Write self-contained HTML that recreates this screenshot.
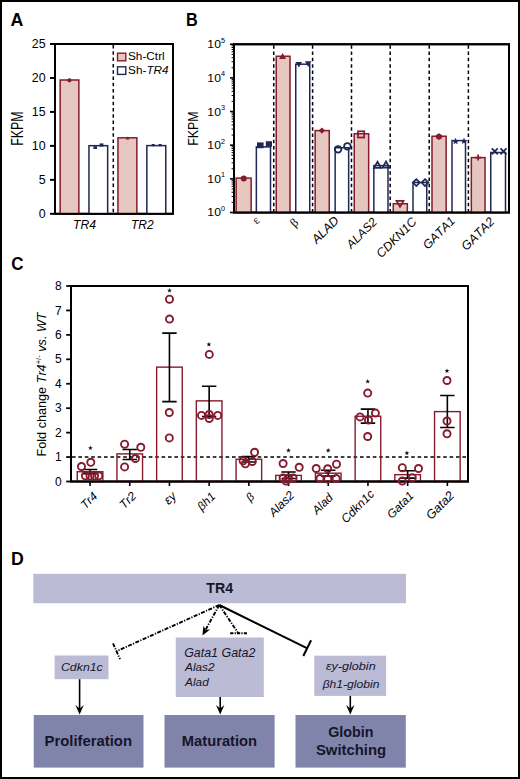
<!DOCTYPE html>
<html><head><meta charset="utf-8"><style>
html,body{margin:0;padding:0;background:#fff;}
svg{display:block;}

</style></head><body>
<svg width="520" height="779" viewBox="0 0 520 779">
<rect x="1" y="1" width="518" height="777" fill="#fff" stroke="#000" stroke-width="2"/>
<text transform="matrix(0.8906,0,0,0.9193,10.56,25.65)" fill="#000" style="font-kerning:none"><tspan font-family="Liberation Sans, sans-serif" font-size="20.00" font-weight="bold">A</tspan></text>
<text transform="matrix(0.8117,0,0,0.9193,186.06,25.65)" fill="#000" style="font-kerning:none"><tspan font-family="Liberation Sans, sans-serif" font-size="20.00" font-weight="bold">B</tspan></text>
<text transform="matrix(0.8489,0,0,0.9569,11.25,270.36)" fill="#000" style="font-kerning:none"><tspan font-family="Liberation Sans, sans-serif" font-size="20.00" font-weight="bold">C</tspan></text>
<text transform="matrix(0.8887,0,0,0.9302,10.96,565.45)" fill="#000" style="font-kerning:none"><tspan font-family="Liberation Sans, sans-serif" font-size="20.00" font-weight="bold">D</tspan></text>
<rect x="55" y="44" width="118" height="169.8" fill="none" stroke="#000" stroke-width="2"/>
<line x1="50" y1="213.8" x2="55" y2="213.8" stroke="#000" stroke-width="2"/>
<text x="45.6" y="217.90" font-size="12.4" text-anchor="end" font-family="Liberation Sans, sans-serif">0</text>
<line x1="50" y1="179.84" x2="55" y2="179.84" stroke="#000" stroke-width="2"/>
<text x="45.6" y="183.94" font-size="12.4" text-anchor="end" font-family="Liberation Sans, sans-serif">5</text>
<line x1="50" y1="145.88" x2="55" y2="145.88" stroke="#000" stroke-width="2"/>
<text x="45.6" y="149.98" font-size="12.4" text-anchor="end" font-family="Liberation Sans, sans-serif">10</text>
<line x1="50" y1="111.92000000000002" x2="55" y2="111.92000000000002" stroke="#000" stroke-width="2"/>
<text x="45.6" y="116.02" font-size="12.4" text-anchor="end" font-family="Liberation Sans, sans-serif">15</text>
<line x1="50" y1="77.96000000000001" x2="55" y2="77.96000000000001" stroke="#000" stroke-width="2"/>
<text x="45.6" y="82.06" font-size="12.4" text-anchor="end" font-family="Liberation Sans, sans-serif">20</text>
<line x1="50" y1="44.0" x2="55" y2="44.0" stroke="#000" stroke-width="2"/>
<text x="45.6" y="48.10" font-size="12.4" text-anchor="end" font-family="Liberation Sans, sans-serif">25</text>
<rect x="60.15" y="80.00" width="18.70" height="133.80" fill="#e5c7c0" stroke="#861a2e" stroke-width="1.5"/>
<rect x="88.95" y="145.68" width="18.70" height="68.12" fill="#fff" stroke="#1f2854" stroke-width="1.5"/>
<rect x="117.95" y="137.80" width="18.90" height="76.00" fill="#e5c7c0" stroke="#861a2e" stroke-width="1.5"/>
<rect x="146.85" y="145.61" width="18.90" height="68.19" fill="#fff" stroke="#1f2854" stroke-width="1.5"/>
<circle cx="69.4" cy="80.30" r="2.1" fill="#861a2e"/>
<rect x="93.4" y="146.2" width="3.6" height="2.8" fill="#1f2854"/>
<rect x="99.6" y="143.4" width="3.8" height="3.2" fill="#1f2854"/>
<path d="M127.6 136.4 L129.6 139.6 L125.6 139.6Z" fill="#861a2e"/>
<path d="M151.4 144 L155 144 L153.2 147Z" fill="#1f2854"/>
<path d="M158.3 144 L161.9 144 L160.1 147Z" fill="#1f2854"/>
<rect x="55" y="44" width="118" height="169.8" fill="none" stroke="#000" stroke-width="2"/>
<line x1="113.3" y1="45" x2="113.3" y2="212.8" stroke="#000" stroke-width="1.5" stroke-dasharray="3.5 2.8"/>
<rect x="117.5" y="53.2" width="8.3" height="7.6" fill="#e5c7c0" stroke="#861a2e" stroke-width="1.4"/>
<rect x="117.5" y="66.8" width="8.3" height="7.6" fill="#fff" stroke="#1f2854" stroke-width="1.4"/>
<text transform="matrix(0.5919,0,0,0.5038,127.91,59.95)" fill="#000" style="font-kerning:none"><tspan font-family="Liberation Sans, sans-serif" font-size="20.00" >Sh-Ctrl</tspan></text>
<text transform="matrix(0.5874,0,0,0.5243,128.12,73.55)" fill="#000" style="font-kerning:none"><tspan font-family="Liberation Sans, sans-serif" font-size="20.00" >Sh-</tspan><tspan font-family="Liberation Sans, sans-serif" font-size="20.00" font-style="italic">TR4</tspan></text>
<text transform="matrix(0.6102,0,0,0.6032,72.95,228.65)" fill="#000" style="font-kerning:none"><tspan font-family="Liberation Sans, sans-serif" font-size="20.00" font-style="italic">TR4</tspan></text>
<text transform="matrix(0.6024,0,0,0.6087,130.97,228.85)" fill="#000" style="font-kerning:none"><tspan font-family="Liberation Sans, sans-serif" font-size="20.00" font-style="italic">TR2</tspan></text>
<text transform="matrix(0,-0.6198,0.7922,0,23.45,145.77)" fill="#000" style="font-kerning:none"><tspan font-family="Liberation Sans, sans-serif" font-size="20.00" >FKPM</tspan></text>
<rect x="234" y="44.25" width="275" height="168.25" fill="none" stroke="#000" stroke-width="2"/>
<line x1="230" y1="212.50" x2="234" y2="212.50" stroke="#000" stroke-width="1.6"/>
<text transform="matrix(0.6080,0.0000,0.0000,0.5892,207.3700,216.4800)" fill="#000" style="font-kerning:none"><tspan font-family="Liberation Sans, sans-serif" font-size="20.00" >10</tspan><tspan font-family="Liberation Sans, sans-serif" font-size="12.00"  dy="-9.20">0</tspan></text>
<line x1="231.6" y1="202.37" x2="234" y2="202.37" stroke="#000" stroke-width="1"/>
<line x1="231.6" y1="196.44" x2="234" y2="196.44" stroke="#000" stroke-width="1"/>
<line x1="231.6" y1="192.24" x2="234" y2="192.24" stroke="#000" stroke-width="1"/>
<line x1="231.6" y1="188.98" x2="234" y2="188.98" stroke="#000" stroke-width="1"/>
<line x1="231.6" y1="186.32" x2="234" y2="186.32" stroke="#000" stroke-width="1"/>
<line x1="231.6" y1="184.06" x2="234" y2="184.06" stroke="#000" stroke-width="1"/>
<line x1="231.6" y1="182.11" x2="234" y2="182.11" stroke="#000" stroke-width="1"/>
<line x1="231.6" y1="180.39" x2="234" y2="180.39" stroke="#000" stroke-width="1"/>
<line x1="230" y1="178.85" x2="234" y2="178.85" stroke="#000" stroke-width="1.6"/>
<text transform="matrix(0.6080,0.0000,0.0000,0.5892,207.3700,182.8300)" fill="#000" style="font-kerning:none"><tspan font-family="Liberation Sans, sans-serif" font-size="20.00" >10</tspan><tspan font-family="Liberation Sans, sans-serif" font-size="12.00"  dy="-9.20">1</tspan></text>
<line x1="231.6" y1="168.72" x2="234" y2="168.72" stroke="#000" stroke-width="1"/>
<line x1="231.6" y1="162.79" x2="234" y2="162.79" stroke="#000" stroke-width="1"/>
<line x1="231.6" y1="158.59" x2="234" y2="158.59" stroke="#000" stroke-width="1"/>
<line x1="231.6" y1="155.33" x2="234" y2="155.33" stroke="#000" stroke-width="1"/>
<line x1="231.6" y1="152.67" x2="234" y2="152.67" stroke="#000" stroke-width="1"/>
<line x1="231.6" y1="150.41" x2="234" y2="150.41" stroke="#000" stroke-width="1"/>
<line x1="231.6" y1="148.46" x2="234" y2="148.46" stroke="#000" stroke-width="1"/>
<line x1="231.6" y1="146.74" x2="234" y2="146.74" stroke="#000" stroke-width="1"/>
<line x1="230" y1="145.20" x2="234" y2="145.20" stroke="#000" stroke-width="1.6"/>
<text transform="matrix(0.6080,0.0000,0.0000,0.5892,207.3700,149.1800)" fill="#000" style="font-kerning:none"><tspan font-family="Liberation Sans, sans-serif" font-size="20.00" >10</tspan><tspan font-family="Liberation Sans, sans-serif" font-size="12.00"  dy="-9.20">2</tspan></text>
<line x1="231.6" y1="135.07" x2="234" y2="135.07" stroke="#000" stroke-width="1"/>
<line x1="231.6" y1="129.14" x2="234" y2="129.14" stroke="#000" stroke-width="1"/>
<line x1="231.6" y1="124.94" x2="234" y2="124.94" stroke="#000" stroke-width="1"/>
<line x1="231.6" y1="121.68" x2="234" y2="121.68" stroke="#000" stroke-width="1"/>
<line x1="231.6" y1="119.02" x2="234" y2="119.02" stroke="#000" stroke-width="1"/>
<line x1="231.6" y1="116.76" x2="234" y2="116.76" stroke="#000" stroke-width="1"/>
<line x1="231.6" y1="114.81" x2="234" y2="114.81" stroke="#000" stroke-width="1"/>
<line x1="231.6" y1="113.09" x2="234" y2="113.09" stroke="#000" stroke-width="1"/>
<line x1="230" y1="111.55" x2="234" y2="111.55" stroke="#000" stroke-width="1.6"/>
<text transform="matrix(0.6080,0.0000,0.0000,0.5892,207.3700,115.5300)" fill="#000" style="font-kerning:none"><tspan font-family="Liberation Sans, sans-serif" font-size="20.00" >10</tspan><tspan font-family="Liberation Sans, sans-serif" font-size="12.00"  dy="-9.20">3</tspan></text>
<line x1="231.6" y1="101.42" x2="234" y2="101.42" stroke="#000" stroke-width="1"/>
<line x1="231.6" y1="95.49" x2="234" y2="95.49" stroke="#000" stroke-width="1"/>
<line x1="231.6" y1="91.29" x2="234" y2="91.29" stroke="#000" stroke-width="1"/>
<line x1="231.6" y1="88.03" x2="234" y2="88.03" stroke="#000" stroke-width="1"/>
<line x1="231.6" y1="85.37" x2="234" y2="85.37" stroke="#000" stroke-width="1"/>
<line x1="231.6" y1="83.11" x2="234" y2="83.11" stroke="#000" stroke-width="1"/>
<line x1="231.6" y1="81.16" x2="234" y2="81.16" stroke="#000" stroke-width="1"/>
<line x1="231.6" y1="79.44" x2="234" y2="79.44" stroke="#000" stroke-width="1"/>
<line x1="230" y1="77.90" x2="234" y2="77.90" stroke="#000" stroke-width="1.6"/>
<text transform="matrix(0.6080,0.0000,0.0000,0.5892,207.3700,81.8800)" fill="#000" style="font-kerning:none"><tspan font-family="Liberation Sans, sans-serif" font-size="20.00" >10</tspan><tspan font-family="Liberation Sans, sans-serif" font-size="12.00"  dy="-9.20">4</tspan></text>
<line x1="231.6" y1="67.77" x2="234" y2="67.77" stroke="#000" stroke-width="1"/>
<line x1="231.6" y1="61.84" x2="234" y2="61.84" stroke="#000" stroke-width="1"/>
<line x1="231.6" y1="57.64" x2="234" y2="57.64" stroke="#000" stroke-width="1"/>
<line x1="231.6" y1="54.38" x2="234" y2="54.38" stroke="#000" stroke-width="1"/>
<line x1="231.6" y1="51.72" x2="234" y2="51.72" stroke="#000" stroke-width="1"/>
<line x1="231.6" y1="49.46" x2="234" y2="49.46" stroke="#000" stroke-width="1"/>
<line x1="231.6" y1="47.51" x2="234" y2="47.51" stroke="#000" stroke-width="1"/>
<line x1="231.6" y1="45.79" x2="234" y2="45.79" stroke="#000" stroke-width="1"/>
<line x1="230" y1="44.25" x2="234" y2="44.25" stroke="#000" stroke-width="1.6"/>
<text transform="matrix(0.6080,0.0000,0.0000,0.5892,207.3700,48.2300)" fill="#000" style="font-kerning:none"><tspan font-family="Liberation Sans, sans-serif" font-size="20.00" >10</tspan><tspan font-family="Liberation Sans, sans-serif" font-size="12.00"  dy="-9.20">5</tspan></text>
<line x1="273.75" y1="45.25" x2="273.75" y2="211.5" stroke="#000" stroke-width="1.5" stroke-dasharray="3.5 2.8"/>
<line x1="312.6" y1="45.25" x2="312.6" y2="211.5" stroke="#000" stroke-width="1.5" stroke-dasharray="3.5 2.8"/>
<line x1="351.5" y1="45.25" x2="351.5" y2="211.5" stroke="#000" stroke-width="1.5" stroke-dasharray="3.5 2.8"/>
<line x1="390.2" y1="45.25" x2="390.2" y2="211.5" stroke="#000" stroke-width="1.5" stroke-dasharray="3.5 2.8"/>
<line x1="429.2" y1="45.25" x2="429.2" y2="211.5" stroke="#000" stroke-width="1.5" stroke-dasharray="3.5 2.8"/>
<line x1="468.4" y1="45.25" x2="468.4" y2="211.5" stroke="#000" stroke-width="1.5" stroke-dasharray="3.5 2.8"/>
<rect x="236.15" y="178.10" width="15.00" height="34.40" fill="#e5c7c0" stroke="#861a2e" stroke-width="1.5"/>
<rect x="256.35" y="146.90" width="14.15" height="65.60" fill="#fff" stroke="#1f2854" stroke-width="1.5"/>
<rect x="276.25" y="56.25" width="13.75" height="156.25" fill="#e5c7c0" stroke="#861a2e" stroke-width="1.5"/>
<rect x="295.75" y="64.20" width="14.00" height="148.30" fill="#fff" stroke="#1f2854" stroke-width="1.5"/>
<rect x="315.15" y="130.60" width="14.10" height="81.90" fill="#e5c7c0" stroke="#861a2e" stroke-width="1.5"/>
<rect x="335.15" y="147.75" width="13.50" height="64.75" fill="#fff" stroke="#1f2854" stroke-width="1.5"/>
<rect x="354.25" y="133.75" width="14.40" height="78.75" fill="#e5c7c0" stroke="#861a2e" stroke-width="1.5"/>
<rect x="373.85" y="165.60" width="14.15" height="46.90" fill="#fff" stroke="#1f2854" stroke-width="1.5"/>
<rect x="393.25" y="203.75" width="14.10" height="8.75" fill="#e5c7c0" stroke="#861a2e" stroke-width="1.5"/>
<rect x="413.00" y="182.50" width="13.75" height="30.00" fill="#fff" stroke="#1f2854" stroke-width="1.5"/>
<rect x="432.00" y="136.25" width="14.15" height="76.25" fill="#e5c7c0" stroke="#861a2e" stroke-width="1.5"/>
<rect x="452.00" y="140.60" width="13.50" height="71.90" fill="#fff" stroke="#1f2854" stroke-width="1.5"/>
<rect x="471.35" y="157.60" width="13.70" height="54.90" fill="#e5c7c0" stroke="#861a2e" stroke-width="1.5"/>
<rect x="490.75" y="152.50" width="14.75" height="60.00" fill="#fff" stroke="#1f2854" stroke-width="1.5"/>
<rect x="234" y="44.25" width="275" height="168.25" fill="none" stroke="#000" stroke-width="2"/>
<circle cx="243.75" cy="178.6" r="3" fill="#861a2e"/>
<rect x="257" y="142.4" width="6.6" height="5.8" fill="#1f2854"/>
<rect x="265.8" y="141.2" width="6.2" height="5.6" fill="#1f2854"/>
<path d="M282.6 52.95 L286.10 59.04 L279.10 59.04Z" fill="#861a2e"/>
<path d="M298.8 67.59 L302.05 61.94 L295.55 61.94Z" fill="#1f2854"/>
<path d="M308.2 66.99 L311.45 61.34 L304.95 61.34Z" fill="#1f2854"/>
<path d="M321.9 127.39999999999999 L325.09999999999997 130.6 L321.9 133.79999999999998 L318.7 130.6Z" fill="#861a2e"/>
<circle cx="338.1" cy="149.3" r="3.3" fill="none" stroke="#1f2854" stroke-width="1.75"/>
<circle cx="347.4" cy="146.3" r="3.3" fill="none" stroke="#1f2854" stroke-width="1.75"/>
<rect x="358" y="131.3" width="6.2" height="6.2" fill="none" stroke="#861a2e" stroke-width="1.75"/>
<path d="M377.5 161.75 L381.00 167.84 L374.00 167.84Z" fill="none" stroke="#1f2854" stroke-width="1.75"/>
<path d="M386 161.55 L389.50 167.64 L382.50 167.64Z" fill="none" stroke="#1f2854" stroke-width="1.75"/>
<path d="M400 206.85 L403.50 200.76 L396.50 200.76Z" fill="none" stroke="#861a2e" stroke-width="1.75"/>
<path d="M416.3 179.2 L419.7 182.6 L416.3 186.0 L412.90000000000003 182.6Z" fill="none" stroke="#1f2854" stroke-width="1.75"/>
<path d="M425 179.2 L428.4 182.6 L425 186.0 L421.6 182.6Z" fill="none" stroke="#1f2854" stroke-width="1.75"/>
<path d="M441.94 138.30 L439.00 140.00 L436.06 138.30 L436.06 134.90 L439.00 133.20 L441.94 134.90Z" fill="#861a2e"/>
<path d="M455.60 137.80 L456.55 140.09 L459.02 140.29 L457.14 141.90 L457.72 144.31 L455.60 143.02 L453.48 144.31 L454.06 141.90 L452.18 140.29 L454.65 140.09Z" fill="#1f2854"/>
<path d="M464.00 137.60 L464.95 139.89 L467.42 140.09 L465.54 141.70 L466.12 144.11 L464.00 142.82 L461.88 144.11 L462.46 141.70 L460.58 140.09 L463.05 139.89Z" fill="#1f2854"/>
<path d="M478.1 154.4 V160.6 M475 157.6 H481.2" stroke="#861a2e" stroke-width="1.75"/>
<path d="M491.75 148.3 L497.75 154.3 M491.75 154.3 L497.75 148.3" stroke="#1f2854" stroke-width="1.75"/>
<path d="M500.5 148.3 L506.5 154.3 M500.5 154.3 L506.5 148.3" stroke="#1f2854" stroke-width="1.75"/>
<text transform="matrix(0,-0.6198,0.7776,0,198.05,145.77)" fill="#000" style="font-kerning:none"><tspan font-family="Liberation Sans, sans-serif" font-size="20.00" >FKPM</tspan></text>
<text transform="translate(260.20,221.10) rotate(-45) scale(1,1) translate(-5.03,0)" fill="#000" style="font-kerning:none"><tspan font-family="Liberation Serif, serif" font-size="11.99" >ε</tspan></text>
<text transform="translate(299.20,223.22) rotate(-45) scale(1,1) translate(-6.33,0)" fill="#000" style="font-kerning:none"><tspan font-family="Liberation Serif, serif" font-size="12.45" >β</tspan></text>
<text transform="translate(339.70,221.25) rotate(-45) scale(1,1) translate(-32.54,0)" fill="#000" style="font-kerning:none"><tspan font-family="Liberation Sans, sans-serif" font-size="12.45" font-style="italic">ALAD</tspan></text>
<text transform="translate(377.75,222.65) rotate(-45) scale(1,1) translate(-37.52,0)" fill="#000" style="font-kerning:none"><tspan font-family="Liberation Sans, sans-serif" font-size="12.05" font-style="italic">ALAS2</tspan></text>
<text transform="translate(417.40,222.45) rotate(-45) scale(1,1) translate(-51.02,0)" fill="#000" style="font-kerning:none"><tspan font-family="Liberation Sans, sans-serif" font-size="12.41" font-style="italic">CDKN1C</tspan></text>
<text transform="translate(455.90,221.65) rotate(-45) scale(1,1) translate(-39.96,0)" fill="#000" style="font-kerning:none"><tspan font-family="Liberation Sans, sans-serif" font-size="12.19" font-style="italic">GATA1</tspan></text>
<text transform="translate(495.05,222.50) rotate(-45) scale(1,1) translate(-40.58,0)" fill="#000" style="font-kerning:none"><tspan font-family="Liberation Sans, sans-serif" font-size="12.38" font-style="italic">GATA2</tspan></text>
<rect x="71" y="286" width="397" height="195.5" fill="none" stroke="#000" stroke-width="2"/>
<line x1="66.2" y1="481.50" x2="71" y2="481.50" stroke="#000" stroke-width="1.8"/>
<text x="61.8" y="485.60" font-size="12" text-anchor="end" font-family="Liberation Sans, sans-serif">0</text>
<line x1="66.2" y1="457.06" x2="71" y2="457.06" stroke="#000" stroke-width="1.8"/>
<text x="61.8" y="461.16" font-size="12" text-anchor="end" font-family="Liberation Sans, sans-serif">1</text>
<line x1="66.2" y1="432.62" x2="71" y2="432.62" stroke="#000" stroke-width="1.8"/>
<text x="61.8" y="436.73" font-size="12" text-anchor="end" font-family="Liberation Sans, sans-serif">2</text>
<line x1="66.2" y1="408.19" x2="71" y2="408.19" stroke="#000" stroke-width="1.8"/>
<text x="61.8" y="412.29" font-size="12" text-anchor="end" font-family="Liberation Sans, sans-serif">3</text>
<line x1="66.2" y1="383.75" x2="71" y2="383.75" stroke="#000" stroke-width="1.8"/>
<text x="61.8" y="387.85" font-size="12" text-anchor="end" font-family="Liberation Sans, sans-serif">4</text>
<line x1="66.2" y1="359.31" x2="71" y2="359.31" stroke="#000" stroke-width="1.8"/>
<text x="61.8" y="363.41" font-size="12" text-anchor="end" font-family="Liberation Sans, sans-serif">5</text>
<line x1="66.2" y1="334.88" x2="71" y2="334.88" stroke="#000" stroke-width="1.8"/>
<text x="61.8" y="338.98" font-size="12" text-anchor="end" font-family="Liberation Sans, sans-serif">6</text>
<line x1="66.2" y1="310.44" x2="71" y2="310.44" stroke="#000" stroke-width="1.8"/>
<text x="61.8" y="314.54" font-size="12" text-anchor="end" font-family="Liberation Sans, sans-serif">7</text>
<line x1="66.2" y1="286.00" x2="71" y2="286.00" stroke="#000" stroke-width="1.8"/>
<text x="61.8" y="290.10" font-size="12" text-anchor="end" font-family="Liberation Sans, sans-serif">8</text>
<line x1="72" y1="457.06" x2="467" y2="457.06" stroke="#000" stroke-width="1.5" stroke-dasharray="3.6 2.8"/>
<line x1="90.05" y1="481.5" x2="90.05" y2="486" stroke="#000" stroke-width="1.6"/>
<rect x="77.25" y="471.73" width="25.60" height="9.77" fill="none" stroke="#861a2e" stroke-width="1.4"/>
<line x1="129.75" y1="481.5" x2="129.75" y2="486" stroke="#000" stroke-width="1.6"/>
<rect x="116.95" y="453.89" width="25.60" height="27.61" fill="none" stroke="#861a2e" stroke-width="1.4"/>
<line x1="169.45" y1="481.5" x2="169.45" y2="486" stroke="#000" stroke-width="1.6"/>
<rect x="156.65" y="367.13" width="25.60" height="114.37" fill="none" stroke="#861a2e" stroke-width="1.4"/>
<line x1="209.15" y1="481.5" x2="209.15" y2="486" stroke="#000" stroke-width="1.6"/>
<rect x="196.35" y="400.86" width="25.60" height="80.64" fill="none" stroke="#861a2e" stroke-width="1.4"/>
<line x1="248.85" y1="481.5" x2="248.85" y2="486" stroke="#000" stroke-width="1.6"/>
<rect x="236.05" y="459.26" width="25.60" height="22.24" fill="none" stroke="#861a2e" stroke-width="1.4"/>
<line x1="288.55" y1="481.5" x2="288.55" y2="486" stroke="#000" stroke-width="1.6"/>
<rect x="275.75" y="475.39" width="25.60" height="6.11" fill="none" stroke="#861a2e" stroke-width="1.4"/>
<line x1="328.25" y1="481.5" x2="328.25" y2="486" stroke="#000" stroke-width="1.6"/>
<rect x="315.45" y="473.19" width="25.60" height="8.31" fill="none" stroke="#861a2e" stroke-width="1.4"/>
<line x1="367.95" y1="481.5" x2="367.95" y2="486" stroke="#000" stroke-width="1.6"/>
<rect x="355.15" y="416.25" width="25.60" height="65.25" fill="none" stroke="#861a2e" stroke-width="1.4"/>
<line x1="407.65" y1="481.5" x2="407.65" y2="486" stroke="#000" stroke-width="1.6"/>
<rect x="394.85" y="474.66" width="25.60" height="6.84" fill="none" stroke="#861a2e" stroke-width="1.4"/>
<line x1="447.35" y1="481.5" x2="447.35" y2="486" stroke="#000" stroke-width="1.6"/>
<rect x="434.55" y="411.61" width="25.60" height="69.89" fill="none" stroke="#861a2e" stroke-width="1.4"/>
<rect x="71" y="286" width="397" height="195.5" fill="none" stroke="#000" stroke-width="2"/>
<path d="M90.05 473.68 V469.53 M82.85 469.53 H97.25 M82.85 473.68 H97.25" stroke="#000" stroke-width="1.6" fill="none"/>
<path d="M129.75 459.51 V449.49 M122.55 449.49 H136.95 M122.55 459.51 H136.95" stroke="#000" stroke-width="1.6" fill="none"/>
<path d="M169.45 401.59 V333.16 M162.25 333.16 H176.65 M162.25 401.59 H176.65" stroke="#000" stroke-width="1.6" fill="none"/>
<path d="M209.15 416.50 V386.19 M201.95 386.19 H216.35 M201.95 416.50 H216.35" stroke="#000" stroke-width="1.6" fill="none"/>
<path d="M248.85 461.95 V456.57 M241.65 456.57 H256.05 M241.65 461.95 H256.05" stroke="#000" stroke-width="1.6" fill="none"/>
<path d="M288.55 478.57 V471.97 M281.35 471.97 H295.75 M281.35 478.57 H295.75" stroke="#000" stroke-width="1.6" fill="none"/>
<path d="M328.25 476.12 V470.26 M321.05 470.26 H335.45 M321.05 476.12 H335.45" stroke="#000" stroke-width="1.6" fill="none"/>
<path d="M367.95 423.09 V409.17 M360.75 409.17 H375.15 M360.75 423.09 H375.15" stroke="#000" stroke-width="1.6" fill="none"/>
<path d="M407.65 478.08 V470.75 M400.45 470.75 H414.85 M400.45 478.08 H414.85" stroke="#000" stroke-width="1.6" fill="none"/>
<path d="M447.35 427.49 V395.48 M440.15 395.48 H454.55 M440.15 427.49 H454.55" stroke="#000" stroke-width="1.6" fill="none"/>
<circle cx="81.5" cy="466.5" r="3.55" fill="none" stroke="#861a2e" stroke-width="1.9"/>
<circle cx="90.8" cy="462.3" r="3.55" fill="none" stroke="#861a2e" stroke-width="1.9"/>
<circle cx="85.4" cy="475.8" r="3.55" fill="none" stroke="#861a2e" stroke-width="1.9"/>
<circle cx="90" cy="475.8" r="3.55" fill="none" stroke="#861a2e" stroke-width="1.9"/>
<circle cx="94.6" cy="475.8" r="3.55" fill="none" stroke="#861a2e" stroke-width="1.9"/>
<circle cx="98.8" cy="475.8" r="3.55" fill="none" stroke="#861a2e" stroke-width="1.9"/>
<circle cx="124.6" cy="444.2" r="3.55" fill="none" stroke="#861a2e" stroke-width="1.9"/>
<circle cx="140.8" cy="447.3" r="3.55" fill="none" stroke="#861a2e" stroke-width="1.9"/>
<circle cx="135.4" cy="458.5" r="3.55" fill="none" stroke="#861a2e" stroke-width="1.9"/>
<circle cx="124.6" cy="466.9" r="3.55" fill="none" stroke="#861a2e" stroke-width="1.9"/>
<circle cx="169.5" cy="299.2" r="3.55" fill="none" stroke="#861a2e" stroke-width="1.9"/>
<circle cx="169.5" cy="319.1" r="3.55" fill="none" stroke="#861a2e" stroke-width="1.9"/>
<circle cx="169.3" cy="412.5" r="3.55" fill="none" stroke="#861a2e" stroke-width="1.9"/>
<circle cx="169.3" cy="437.9" r="3.55" fill="none" stroke="#861a2e" stroke-width="1.9"/>
<circle cx="209.3" cy="354.4" r="3.55" fill="none" stroke="#861a2e" stroke-width="1.9"/>
<circle cx="201.5" cy="415.4" r="3.55" fill="none" stroke="#861a2e" stroke-width="1.9"/>
<circle cx="209.2" cy="418.5" r="3.55" fill="none" stroke="#861a2e" stroke-width="1.9"/>
<circle cx="217.7" cy="415.4" r="3.55" fill="none" stroke="#861a2e" stroke-width="1.9"/>
<circle cx="209.2" cy="414.5" r="3.55" fill="none" stroke="#861a2e" stroke-width="1.9"/>
<circle cx="254.6" cy="452.3" r="3.55" fill="none" stroke="#861a2e" stroke-width="1.9"/>
<circle cx="243.1" cy="460.8" r="3.55" fill="none" stroke="#861a2e" stroke-width="1.9"/>
<circle cx="245.4" cy="463.8" r="3.55" fill="none" stroke="#861a2e" stroke-width="1.9"/>
<circle cx="252.3" cy="461.5" r="3.55" fill="none" stroke="#861a2e" stroke-width="1.9"/>
<circle cx="283.1" cy="463.5" r="3.55" fill="none" stroke="#861a2e" stroke-width="1.9"/>
<circle cx="299.2" cy="467.3" r="3.55" fill="none" stroke="#861a2e" stroke-width="1.9"/>
<circle cx="283.1" cy="478" r="3.55" fill="none" stroke="#861a2e" stroke-width="1.9"/>
<circle cx="288.5" cy="478" r="3.55" fill="none" stroke="#861a2e" stroke-width="1.9"/>
<circle cx="293.1" cy="478" r="3.55" fill="none" stroke="#861a2e" stroke-width="1.9"/>
<circle cx="286" cy="481" r="3.55" fill="none" stroke="#861a2e" stroke-width="1.9"/>
<circle cx="316.2" cy="468.5" r="3.55" fill="none" stroke="#861a2e" stroke-width="1.9"/>
<circle cx="336.5" cy="464.2" r="3.55" fill="none" stroke="#861a2e" stroke-width="1.9"/>
<circle cx="327.7" cy="468.8" r="3.55" fill="none" stroke="#861a2e" stroke-width="1.9"/>
<circle cx="320" cy="478.5" r="3.55" fill="none" stroke="#861a2e" stroke-width="1.9"/>
<circle cx="327.7" cy="479" r="3.55" fill="none" stroke="#861a2e" stroke-width="1.9"/>
<circle cx="336.2" cy="478.5" r="3.55" fill="none" stroke="#861a2e" stroke-width="1.9"/>
<circle cx="367.7" cy="393.1" r="3.55" fill="none" stroke="#861a2e" stroke-width="1.9"/>
<circle cx="360" cy="416.9" r="3.55" fill="none" stroke="#861a2e" stroke-width="1.9"/>
<circle cx="375.4" cy="413.1" r="3.55" fill="none" stroke="#861a2e" stroke-width="1.9"/>
<circle cx="368.5" cy="420" r="3.55" fill="none" stroke="#861a2e" stroke-width="1.9"/>
<circle cx="367.7" cy="436.5" r="3.55" fill="none" stroke="#861a2e" stroke-width="1.9"/>
<circle cx="402.3" cy="467.7" r="3.55" fill="none" stroke="#861a2e" stroke-width="1.9"/>
<circle cx="418.5" cy="468.5" r="3.55" fill="none" stroke="#861a2e" stroke-width="1.9"/>
<circle cx="412.3" cy="477.7" r="3.55" fill="none" stroke="#861a2e" stroke-width="1.9"/>
<circle cx="402.3" cy="481" r="3.55" fill="none" stroke="#861a2e" stroke-width="1.9"/>
<circle cx="447" cy="380.5" r="3.55" fill="none" stroke="#861a2e" stroke-width="1.9"/>
<circle cx="447" cy="421" r="3.55" fill="none" stroke="#861a2e" stroke-width="1.9"/>
<circle cx="447" cy="433.8" r="3.55" fill="none" stroke="#861a2e" stroke-width="1.9"/>
<path d="M90.40 445.50 L91.02 447.15 L92.78 447.23 L91.40 448.32 L91.87 450.02 L90.40 449.05 L88.93 450.02 L89.40 448.32 L88.02 447.23 L89.78 447.15Z" fill="#111"/>
<path d="M169.50 288.00 L170.12 289.65 L171.88 289.73 L170.50 290.82 L170.97 292.52 L169.50 291.55 L168.03 292.52 L168.50 290.82 L167.12 289.73 L168.88 289.65Z" fill="#111"/>
<path d="M208.90 341.90 L209.52 343.55 L211.28 343.63 L209.90 344.72 L210.37 346.42 L208.90 345.45 L207.43 346.42 L207.90 344.72 L206.52 343.63 L208.28 343.55Z" fill="#111"/>
<path d="M288.50 447.90 L289.12 449.55 L290.88 449.63 L289.50 450.72 L289.97 452.42 L288.50 451.45 L287.03 452.42 L287.50 450.72 L286.12 449.63 L287.88 449.55Z" fill="#111"/>
<path d="M328.20 447.90 L328.82 449.55 L330.58 449.63 L329.20 450.72 L329.67 452.42 L328.20 451.45 L326.73 452.42 L327.20 450.72 L325.82 449.63 L327.58 449.55Z" fill="#111"/>
<path d="M367.70 379.00 L368.32 380.65 L370.08 380.73 L368.70 381.82 L369.17 383.52 L367.70 382.55 L366.23 383.52 L366.70 381.82 L365.32 380.73 L367.08 380.65Z" fill="#111"/>
<path d="M406.90 450.60 L407.52 452.25 L409.28 452.33 L407.90 453.42 L408.37 455.12 L406.90 454.15 L405.43 455.12 L405.90 453.42 L404.52 452.33 L406.28 452.25Z" fill="#111"/>
<path d="M447.00 368.40 L447.62 370.05 L449.38 370.13 L448.00 371.22 L448.47 372.92 L447.00 371.95 L445.53 372.92 L446.00 371.22 L444.62 370.13 L446.38 370.05Z" fill="#111"/>
<text transform="matrix(0,-0.6331,0.6260,0,45.95,456.49)" fill="#000" style="font-kerning:none"><tspan font-family="Liberation Sans, sans-serif" font-size="20.00" >Fold change </tspan><tspan font-family="Liberation Sans, sans-serif" font-size="20.00" font-style="italic">Tr4</tspan><tspan font-family="Liberation Sans, sans-serif" font-size="12.00"  dy="-8.40">+/-</tspan><tspan font-family="Liberation Sans, sans-serif" font-size="20.00" font-style="italic" dy="8.40"> vs. WT</tspan></text>
<text transform="translate(98.10,496.95) rotate(-45) scale(1,1) translate(-17.96,0)" fill="#000" style="font-kerning:none"><tspan font-family="Liberation Sans, sans-serif" font-size="11.97" font-style="italic">Tr4</tspan></text>
<text transform="translate(137.00,496.70) rotate(-45) scale(1,1) translate(-18.00,0)" fill="#000" style="font-kerning:none"><tspan font-family="Liberation Sans, sans-serif" font-size="12.00" font-style="italic">Tr2</tspan></text>
<text transform="translate(177.05,497.00) rotate(-45) scale(1,1) translate(-11.69,0)" fill="#000" style="font-kerning:none"><tspan font-family="Liberation Sans, sans-serif" font-size="12.44" font-style="italic">εy</tspan></text>
<text transform="translate(216.15,497.10) rotate(-45) scale(1,1) translate(-19.93,0)" fill="#000" style="font-kerning:none"><tspan font-family="Liberation Sans, sans-serif" font-size="11.84" font-style="italic">βh1</tspan></text>
<text transform="translate(255.20,497.50) rotate(-45) scale(1,1) translate(-6.49,0)" fill="#000" style="font-kerning:none"><tspan font-family="Liberation Sans, sans-serif" font-size="11.36" font-style="italic">β</tspan></text>
<text transform="translate(295.05,496.05) rotate(-45) scale(1,1) translate(-30.13,0)" fill="#000" style="font-kerning:none"><tspan font-family="Liberation Sans, sans-serif" font-size="12.05" font-style="italic">Alas2</tspan></text>
<text transform="translate(333.75,498.25) rotate(-45) scale(1,1) translate(-23.63,0)" fill="#000" style="font-kerning:none"><tspan font-family="Liberation Sans, sans-serif" font-size="11.81" font-style="italic">Alad</tspan></text>
<text transform="translate(375.10,494.75) rotate(-45) scale(1,1) translate(-41.10,0)" fill="#000" style="font-kerning:none"><tspan font-family="Liberation Sans, sans-serif" font-size="12.12" font-style="italic">Cdkn1c</tspan></text>
<text transform="translate(414.45,496.45) rotate(-45) scale(1,1) translate(-32.25,0)" fill="#000" style="font-kerning:none"><tspan font-family="Liberation Sans, sans-serif" font-size="11.84" font-style="italic">Gata1</tspan></text>
<text transform="translate(455.00,496.25) rotate(-45) scale(1,1) translate(-33.97,0)" fill="#000" style="font-kerning:none"><tspan font-family="Liberation Sans, sans-serif" font-size="12.47" font-style="italic">Gata2</tspan></text>
<rect x="33.3" y="573.8" width="372.7" height="29.4" fill="#bbbbd5"/>
<text transform="matrix(0.7103,0,0,0.7050,206.29,592.85)" fill="#15152a" style="font-kerning:none"><tspan font-family="Liberation Sans, sans-serif" font-size="20.00" font-weight="bold">TR4</tspan></text>
<rect x="54.6" y="655.5" width="53.9" height="23.7" fill="#bbbbd5"/>
<text transform="matrix(0.6167,0,0,0.5919,60.97,671.03)" fill="#15152a" style="font-kerning:none"><tspan font-family="Liberation Sans, sans-serif" font-size="20.00" font-style="italic">Cdkn1c</tspan></text>
<rect x="175.75" y="637.5" width="88" height="59.5" fill="#bbbbd5"/>
<text transform="matrix(0.6226,0,0,0.6073,184.14,656.83)" fill="#15152a" style="font-kerning:none"><tspan font-family="Liberation Sans, sans-serif" font-size="20.00" font-style="italic">Gata1 Gata2</tspan></text>
<text transform="matrix(0.5915,0,0,0.5719,185.03,671.24)" fill="#15152a" style="font-kerning:none"><tspan font-family="Liberation Sans, sans-serif" font-size="20.00" font-style="italic">Alas2</tspan></text>
<text transform="matrix(0.5922,0,0,0.5851,185.03,686.03)" fill="#15152a" style="font-kerning:none"><tspan font-family="Liberation Sans, sans-serif" font-size="20.00" font-style="italic">Alad</tspan></text>
<rect x="314.3" y="655.7" width="71.8" height="40.2" fill="#bbbbd5"/>
<text transform="matrix(0.6303,0,0,0.5793,326.04,670.05)" fill="#15152a" style="font-kerning:none"><tspan font-family="Liberation Sans, sans-serif" font-size="20.00" font-style="italic">εy-globin</tspan></text>
<text transform="matrix(0.6056,0,0,0.5793,322.65,687.95)" fill="#15152a" style="font-kerning:none"><tspan font-family="Liberation Sans, sans-serif" font-size="20.00" font-style="italic">βh1-globin</tspan></text>
<rect x="33.75" y="715" width="109.75" height="52.6" fill="#8084aa"/>
<rect x="164.5" y="715" width="110.10" height="52.6" fill="#8084aa"/>
<rect x="295.5" y="715" width="110.30" height="52.6" fill="#8084aa"/>
<text transform="matrix(0.7430,0,0,0.7694,44.56,746.00)" fill="#15152a" style="font-kerning:none"><tspan font-family="Liberation Sans, sans-serif" font-size="20.00" font-weight="bold">Proliferation</tspan></text>
<text transform="matrix(0.7357,0,0,0.7013,181.87,745.81)" fill="#15152a" style="font-kerning:none"><tspan font-family="Liberation Sans, sans-serif" font-size="20.00" font-weight="bold">Maturation</tspan></text>
<text transform="matrix(0.7150,0,0,0.6877,328.26,736.82)" fill="#15152a" style="font-kerning:none"><tspan font-family="Liberation Sans, sans-serif" font-size="20.00" font-weight="bold">Globin</tspan></text>
<text transform="matrix(0.7446,0,0,0.7261,315.92,754.97)" fill="#15152a" style="font-kerning:none"><tspan font-family="Liberation Sans, sans-serif" font-size="20.00" font-weight="bold">Switching</tspan></text>
<line x1="79.6" y1="679.2" x2="79.6" y2="712" stroke="#000" stroke-width="1.6"/>
<path d="M79.6 714.6 L75.39999999999999 705 L79.6 708.5 L83.8 705Z" fill="#000"/>
<line x1="220.2" y1="697" x2="220.2" y2="712" stroke="#000" stroke-width="1.6"/>
<path d="M220.2 714.6 L216.0 705 L220.2 708.5 L224.39999999999998 705Z" fill="#000"/>
<line x1="350.3" y1="695.9" x2="350.3" y2="712" stroke="#000" stroke-width="1.6"/>
<path d="M350.3 714.6 L346.1 705 L350.3 708.5 L354.5 705Z" fill="#000"/>
<line x1="219.3" y1="605" x2="116.5" y2="651.2" stroke="#000" stroke-width="1.9" stroke-dasharray="4 1.4 1.2 1.4"/>
<line x1="112.97" y1="643.36" x2="120.03" y2="659.04" stroke="#000" stroke-width="1.9" stroke-dasharray="4 1.4 1.2 1.4"/>
<line x1="219.3" y1="605" x2="205.78" y2="629.40" stroke="#000" stroke-width="1.9" stroke-dasharray="4 1.4 1.2 1.4"/>
<path d="M202.4 635.5 L203.44 625.79 L205.60 629.73 L210.09 629.47Z" fill="#000"/>
<line x1="219.3" y1="605" x2="238.25" y2="633.2" stroke="#000" stroke-width="1.9" stroke-dasharray="4 1.4 1.2 1.4"/>
<line x1="230.2" y1="633.2" x2="248" y2="633.2" stroke="#000" stroke-width="1.9" stroke-dasharray="3.2 1.2 1.2 1.2"/>
<line x1="219.3" y1="605" x2="306.9" y2="648.1" stroke="#000" stroke-width="2"/>
<line x1="311.1" y1="640.3" x2="303.3" y2="656" stroke="#000" stroke-width="2"/>
</svg></body></html>
